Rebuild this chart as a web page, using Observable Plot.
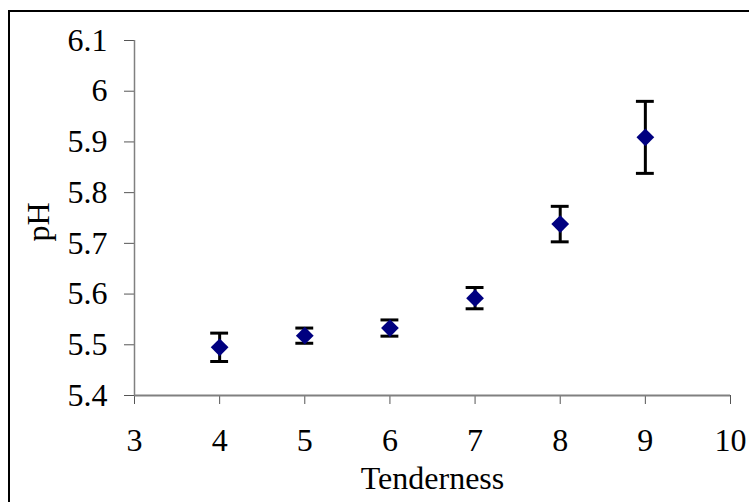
<!DOCTYPE html>
<html><head><meta charset="utf-8">
<script src="https://cdn.jsdelivr.net/npm/d3@7"></script>
<script src="https://cdn.jsdelivr.net/npm/@observablehq/plot@0.6"></script>
<style>
html,body{margin:0;padding:0;background:#fff;overflow:hidden}
#wrap{position:relative;width:749px;height:502px}
#wrap svg{position:absolute;left:0;top:0}
#border{position:absolute;left:8px;top:10px;width:760px;height:520px;border-left:2px solid #000;border-top:2px solid #000;pointer-events:none}
</style></head><body><div id="wrap"></div>
<script>
const tenderness = [4, 5, 6, 7, 8, 9];
const phMean = [5.495, 5.518, 5.533, 5.592, 5.738, 5.909];
const phErr = [0.028, 0.015, 0.016, 0.021, 0.035, 0.071];
const xTicks = [3, 4, 5, 6, 7, 8, 9, 10];
const yTicks = [5.4, 5.5, 5.6, 5.7, 5.8, 5.9, 6, 6.1];
const xLabel = "Tenderness";
const yLabel = "pH";

const data = tenderness.map((x, i) => ({x, y: phMean[i], lo: phMean[i] - phErr[i], hi: phMean[i] + phErr[i]}));
const capHalf = 0.105;
const FONT = "Liberation Serif";
const FS = 32;

const chart = Plot.plot({
  width: 749,
  height: 502,
  marginLeft: 134,
  marginTop: 40,
  marginRight: 19,
  marginBottom: 107,
  style: {fontFamily: FONT, fontSize: FS + "px", background: "white", color: "#000"},
  x: {domain: [3, 10]},
  y: {domain: [5.4, 6.1]},
  marks: [
    Plot.axisX({ticks: xTicks, tickSize: 9, tickFormat: () => "", label: null, stroke: "#555"}),
    Plot.axisY({ticks: yTicks, tickSize: 10, tickFormat: () => "", label: null, stroke: "#555"}),
    Plot.text(xTicks, {x: d => d, text: d => String(d), frameAnchor: "bottom", textAnchor: "middle", lineAnchor: "bottom", dy: 55, fill: "#000", fontFamily: FONT, fontSize: FS}),
    Plot.text(yTicks, {y: d => d, text: d => String(d), frameAnchor: "left", textAnchor: "end", lineAnchor: "middle", dx: -27, fill: "#000", fontFamily: FONT, fontSize: FS}),
    Plot.ruleX([3], {stroke: "#808080", strokeWidth: 1.5}),
    Plot.ruleY([5.4], {stroke: "#808080", strokeWidth: 2}),
    Plot.ruleX(data, {x: "x", y1: "lo", y2: "hi", stroke: "#000", strokeWidth: 3}),
    Plot.ruleY(data, {y: "hi", x1: d => d.x - capHalf, x2: d => d.x + capHalf, stroke: "#000", strokeWidth: 3}),
    Plot.ruleY(data, {y: "lo", x1: d => d.x - capHalf, x2: d => d.x + capHalf, stroke: "#000", strokeWidth: 3}),
    Plot.dot(data, {x: "x", y: "y", symbol: "diamond2", r: 8, fill: "#000080", stroke: "none"}),
    Plot.text([yLabel], {text: d => d, frameAnchor: "left", textAnchor: "middle", lineAnchor: "middle", dx: -96, dy: 4, rotate: -90, fill: "#000", fontFamily: FONT, fontSize: FS}),
    Plot.text([xLabel], {text: d => d, frameAnchor: "bottom", textAnchor: "middle", dy: 93, lineAnchor: "bottom", fill: "#000", fontFamily: FONT, fontSize: FS})
  ]
});
const wrap = document.getElementById("wrap");
wrap.appendChild(chart);
const b = document.createElement("div");
b.id = "border";
wrap.appendChild(b);
</script></body></html>
